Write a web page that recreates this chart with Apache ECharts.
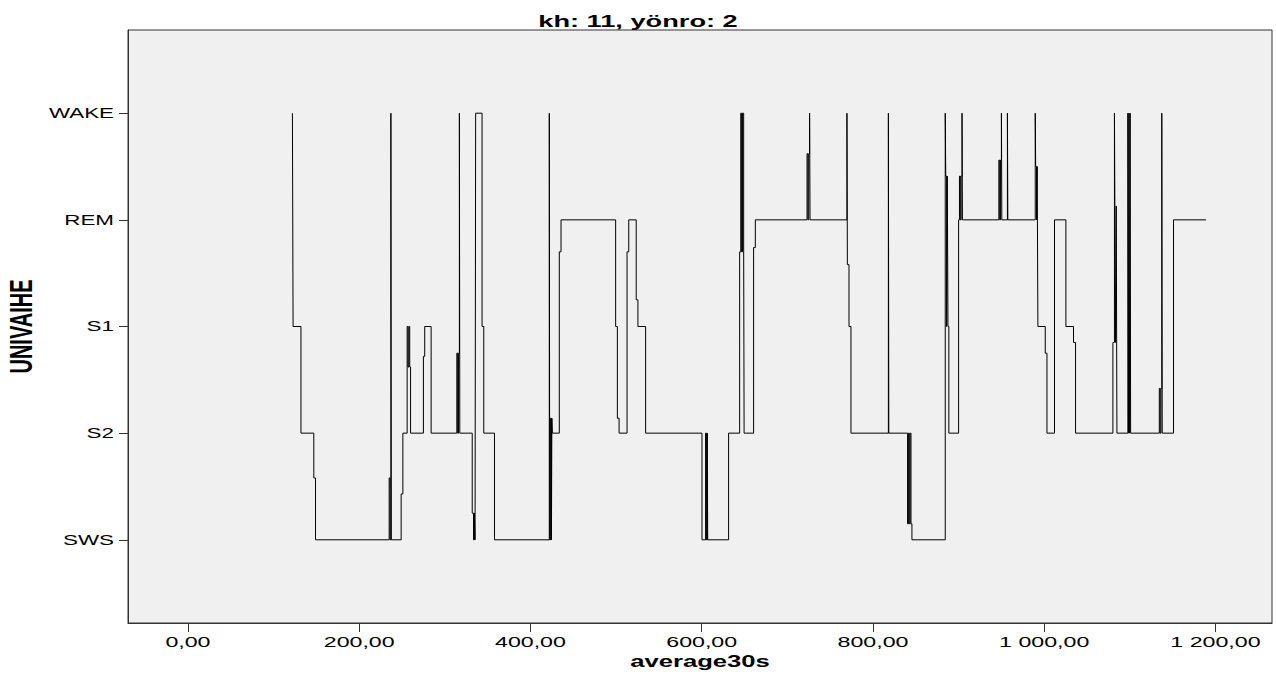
<!DOCTYPE html>
<html>
<head>
<meta charset="utf-8">
<script src="https://cdn.jsdelivr.net/npm/echarts@6/dist/echarts.min.js"></script>
<style>
  html, body { margin: 0; padding: 0; background: #fff; }
  #main { width: 1276px; height: 683px; }
</style>
</head>
<body>
<div id="main"></div>
<script>
    // sleep stage codes on the y axis: 0 = SWS ... 4 = WAKE
    var stageNames = ['SWS', 'S2', 'S1', 'REM', 'WAKE'];
    var stageTicks = [0, 1, 2, 3, 4];
    var xTicks = [0, 200, 400, 600, 800, 1000, 1200];

    // hypnogram: x where a level starts, and its value
    var epochX = [
        122, 122.8, 132, 147, 149, 235, 236, 237, 237.5, 249,
        251, 256, 257, 258, 259, 260, 275, 276.5, 284, 314,
        315, 316, 317, 317.5, 332, 333.5, 334.5, 335.3, 336, 343.5,
        345.5, 358, 422, 422.5, 423.5, 424.5, 425, 425.6, 433.7, 435.7,
        499.5, 501.5, 503.5, 512.8, 514.8, 523.5, 525.5, 534.5, 600.3, 604.5,
        605.5, 606.5, 607, 631.4, 644.3, 645.6, 646.6, 647.6, 649, 649.5,
        660.6, 662.6, 723, 724, 725, 726, 726.5, 769.6, 770.1, 772,
        774.3, 818, 818.5, 840.4, 841.4, 842.4, 843.4, 844.4, 845.5, 884.4,
        885, 886, 886.8, 887.6, 888.6, 900, 901, 902, 903, 904,
        904.5, 947, 948, 949, 950, 950.5, 957, 957.5, 989.5, 990,
        991, 991.8, 992.6, 1001.2, 1003.2, 1012, 1025.3, 1034.2, 1036.6, 1080.2,
        1082, 1082.5, 1083.3, 1084.1, 1084.9, 1097.7, 1098.4, 1099, 1099.7, 1100.3,
        1100.9, 1134.4, 1135.4, 1136.4, 1137.3, 1137.8, 1151, 1189
    ];
    var stageY = [
        4, 2, 1, 0.58, 0, 0.58, 0, 4, 0, 0.43,
        1, 2, 1.62, 2, 1.62, 1, 1.72, 2, 1, 1.75,
        1, 1.75, 4, 1, 0.25, 0, 0.25, 0, 4, 2,
        1, 0, 4, 0, 1.14, 0, 1.14, 1, 2.7, 3,
        2, 1.14, 1, 2.7, 3, 2.25, 2, 1, 0, 1,
        0, 1, 0, 1, 2.7, 4, 2.7, 4, 2.7, 1,
        2.74, 3, 3.62, 3, 3.62, 4, 3, 4, 2.58, 2,
        1, 4, 1, 0.15, 1, 0.15, 1, 0.15, 0, 4,
        3.41, 2, 3.41, 2, 1, 3, 3.41, 3, 3.41, 4,
        3, 3.56, 3, 3.56, 4, 3, 4, 3, 4, 3.5,
        3, 3.5, 2, 1.75, 1, 3, 2, 1.85, 1, 1.85,
        4, 3.13, 1.85, 3.13, 1, 4, 1, 4, 1, 4,
        1, 1.42, 1, 1.42, 4, 1, 3, 3
    ];

    var FONT = '"Liberation Sans", Arial, sans-serif';
    var STRETCH = 1.6; // the reference's text is drawn wide
    var GRID_LEFT = 128;

    function fmtX(v) {
        var s = v.toFixed(2).split('.');
        var whole = s[0].replace(/\B(?=(\d{3})+(?!\d))/g, ' ');
        return whole + ',' + s[1];
    }

    var chartDom = document.getElementById('main');
    var myChart = echarts.init(chartDom, null, { renderer: 'svg' });

    var option = {
        animation: false,
        backgroundColor: '#fff',
        title: {
            text: 'kh: 11, yönro: 2',
            left: 'center',
            top: 8,
            textStyle: { fontFamily: FONT, fontSize: 17, fontWeight: 'bold', color: '#000' }
        },
        grid: {
            left: GRID_LEFT, right: 4, top: 30, bottom: 60,
            show: true,
            backgroundColor: '#f0f0f0',
            borderColor: '#333',
            borderWidth: 1,
            outerBoundsMode: 'none'
        },
        xAxis: {
            type: 'value',
            min: -70,
            max: 1266,
            name: 'average30s',
            nameLocation: 'middle',
            nameGap: 26,
            nameTextStyle: { fontFamily: FONT, fontSize: 16, fontWeight: 'bold', color: '#000' },
            axisLine: { show: true, onZero: false, lineStyle: { color: '#333' } },
            axisTick: { show: true, length: 9, customValues: xTicks, lineStyle: { color: '#333' } },
            axisLabel: {
                customValues: xTicks,
                margin: 11,
                fontFamily: FONT,
                fontSize: 14.5,
                color: '#000',
                formatter: fmtX
            },
            splitLine: { show: false }
        },
        yAxis: {
            type: 'value',
            min: -0.78,
            max: 4.78,
            name: 'UNIVAIHE',
            nameLocation: 'middle',
            nameGap: 97,
            nameTextStyle: { fontFamily: FONT, fontSize: 20, fontWeight: 'bold', color: '#000' },
            axisLine: { show: true, onZero: false, lineStyle: { color: '#333' } },
            axisTick: { show: true, length: 9, customValues: stageTicks, lineStyle: { color: '#333' } },
            axisLabel: {
                customValues: stageTicks,
                margin: 14,
                fontFamily: FONT,
                fontSize: 14,
                color: '#000',
                formatter: function (v) { return stageNames[Math.round(v)]; }
            },
            splitLine: { show: false }
        },
        series: [{
            type: 'line',
            step: 'end',
            showSymbol: false,
            symbol: 'none',
            lineStyle: { color: '#000', width: 1 },
            data: epochX.map(function (x, i) { return [x, stageY[i]]; })
        }]
    };

    myChart.setOption(option);

    // widen every text sideways like in the reference picture;
    // y labels keep their right edge, everything else its centre
    function stretchTexts(factor) {
        var svg = chartDom.querySelector('svg');
        if (!svg) return;
        var box = svg.getBoundingClientRect();
        svg.querySelectorAll('text').forEach(function (t) {
            var r = t.getBoundingClientRect();
            var isYLabel = r.width > r.height && (r.right - box.left) < GRID_LEFT && (r.left - box.left) > 40;
            var cx = (isYLabel ? r.right : r.left + r.width / 2) - box.left;
            var old = t.getAttribute('transform') || '';
            t.setAttribute('transform',
                'translate(' + cx + ' 0) scale(' + factor + ' 1) translate(' + (-cx) + ' 0) ' + old);
        });
    }
    stretchTexts(STRETCH);
</script>
</body>
</html>
